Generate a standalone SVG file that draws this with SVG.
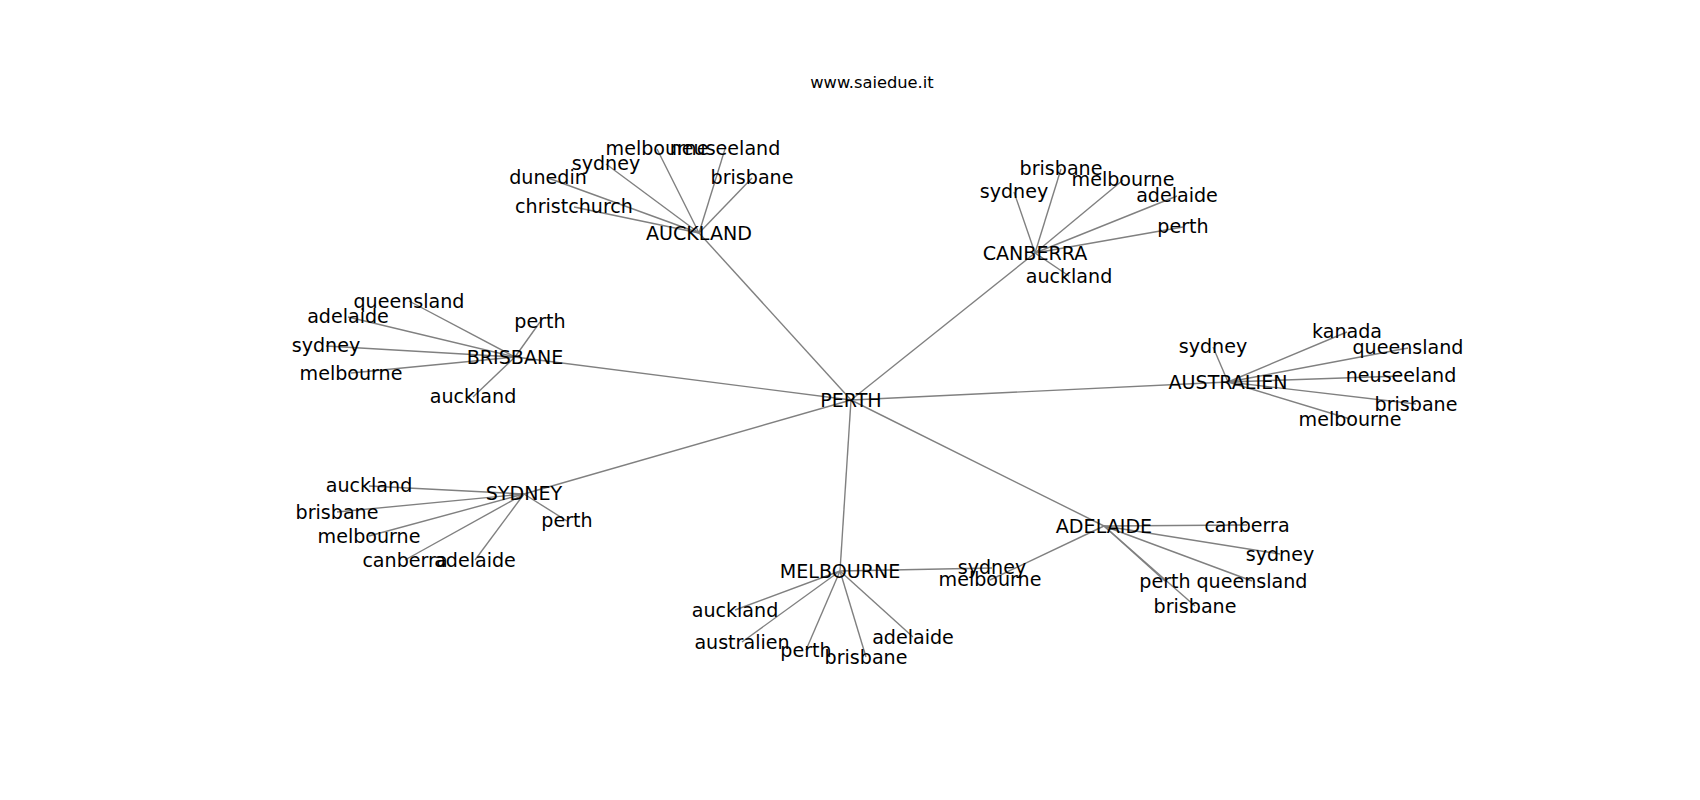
<svg xmlns="http://www.w3.org/2000/svg" width="1700" height="800" viewBox="0 0 1700 800">
<style>
text{font-family:"DejaVu Sans","Liberation Sans",sans-serif;font-size:19.1px;fill:#000;text-anchor:middle}
.title{font-size:16.3px}
#edges line{stroke:#808080;stroke-width:1.4}
</style>
<rect width="1700" height="800" fill="#fff"/>
<text class="title" x="872" y="88">www.saiedue.it</text>
<g id="edges">
<line x1="851" y1="400" x2="699" y2="233"/>
<line x1="851" y1="400" x2="1035" y2="253"/>
<line x1="851" y1="400" x2="515" y2="357"/>
<line x1="851" y1="400" x2="1228" y2="382"/>
<line x1="851" y1="400" x2="524" y2="494"/>
<line x1="851" y1="400" x2="840" y2="571"/>
<line x1="851" y1="400" x2="1104" y2="526"/>
<line x1="699" y1="233" x2="657" y2="149"/>
<line x1="699" y1="233" x2="725" y2="149"/>
<line x1="699" y1="233" x2="606" y2="164"/>
<line x1="699" y1="233" x2="548" y2="178"/>
<line x1="699" y1="233" x2="752" y2="178"/>
<line x1="699" y1="233" x2="574" y2="207"/>
<line x1="1035" y1="253" x2="1061" y2="169"/>
<line x1="1035" y1="253" x2="1123" y2="180"/>
<line x1="1035" y1="253" x2="1014" y2="192"/>
<line x1="1035" y1="253" x2="1177" y2="196"/>
<line x1="1035" y1="253" x2="1183" y2="227"/>
<line x1="1035" y1="253" x2="1069" y2="276"/>
<line x1="515" y1="357" x2="409" y2="301"/>
<line x1="515" y1="357" x2="348" y2="317"/>
<line x1="515" y1="357" x2="540" y2="322"/>
<line x1="515" y1="357" x2="326" y2="346"/>
<line x1="515" y1="357" x2="351" y2="373"/>
<line x1="515" y1="357" x2="473" y2="397"/>
<line x1="1228" y1="382" x2="1213" y2="347"/>
<line x1="1228" y1="382" x2="1347" y2="332"/>
<line x1="1228" y1="382" x2="1408" y2="348"/>
<line x1="1228" y1="382" x2="1401" y2="376"/>
<line x1="1228" y1="382" x2="1416" y2="404"/>
<line x1="1228" y1="382" x2="1350" y2="419"/>
<line x1="524" y1="494" x2="369" y2="486"/>
<line x1="524" y1="494" x2="337" y2="512"/>
<line x1="524" y1="494" x2="567" y2="521"/>
<line x1="524" y1="494" x2="369" y2="536"/>
<line x1="524" y1="494" x2="405" y2="560"/>
<line x1="524" y1="494" x2="475" y2="560"/>
<line x1="840" y1="571" x2="735" y2="610"/>
<line x1="840" y1="571" x2="742" y2="642"/>
<line x1="840" y1="571" x2="806" y2="650"/>
<line x1="840" y1="571" x2="866" y2="657"/>
<line x1="840" y1="571" x2="913" y2="637"/>
<line x1="840" y1="571" x2="992" y2="568"/>
<line x1="1104" y1="526" x2="1247" y2="525"/>
<line x1="1104" y1="526" x2="1280" y2="554"/>
<line x1="1104" y1="526" x2="1252" y2="581"/>
<line x1="1104" y1="526" x2="1165" y2="581"/>
<line x1="1104" y1="526" x2="1195" y2="606"/>
<line x1="1104" y1="526" x2="990" y2="580"/>
</g>
<g id="n-perth"><text x="851" y="407">PERTH</text></g>
<g id="n-auckland"><text x="699" y="240">AUCKLAND</text></g>
<g id="n-auckland-melbourne"><text x="657" y="155">melbourne</text></g>
<g id="n-auckland-neuseeland"><text x="725" y="155">neuseeland</text></g>
<g id="n-auckland-sydney"><text x="606" y="170">sydney</text></g>
<g id="n-auckland-dunedin"><text x="548" y="184">dunedin</text></g>
<g id="n-auckland-brisbane"><text x="752" y="184">brisbane</text></g>
<g id="n-auckland-christchurch"><text x="574" y="213">christchurch</text></g>
<g id="n-canberra"><text x="1035" y="260">CANBERRA</text></g>
<g id="n-canberra-brisbane"><text x="1061" y="175">brisbane</text></g>
<g id="n-canberra-melbourne"><text x="1123" y="186">melbourne</text></g>
<g id="n-canberra-sydney"><text x="1014" y="198">sydney</text></g>
<g id="n-canberra-adelaide"><text x="1177" y="202">adelaide</text></g>
<g id="n-canberra-perth"><text x="1183" y="233">perth</text></g>
<g id="n-canberra-auckland"><text x="1069" y="283">auckland</text></g>
<g id="n-brisbane"><text x="515" y="364">BRISBANE</text></g>
<g id="n-brisbane-queensland"><text x="409" y="308">queensland</text></g>
<g id="n-brisbane-adelaide"><text x="348" y="323">adelaide</text></g>
<g id="n-brisbane-perth"><text x="540" y="328">perth</text></g>
<g id="n-brisbane-sydney"><text x="326" y="352">sydney</text></g>
<g id="n-brisbane-melbourne"><text x="351" y="380">melbourne</text></g>
<g id="n-brisbane-auckland"><text x="473" y="403">auckland</text></g>
<g id="n-australien"><text x="1228" y="389">AUSTRALIEN</text></g>
<g id="n-australien-sydney"><text x="1213" y="353">sydney</text></g>
<g id="n-australien-kanada"><text x="1347" y="338">kanada</text></g>
<g id="n-australien-queensland"><text x="1408" y="354">queensland</text></g>
<g id="n-australien-neuseeland"><text x="1401" y="382">neuseeland</text></g>
<g id="n-australien-brisbane"><text x="1416" y="411">brisbane</text></g>
<g id="n-australien-melbourne"><text x="1350" y="426">melbourne</text></g>
<g id="n-sydney"><text x="524" y="500">SYDNEY</text></g>
<g id="n-sydney-auckland"><text x="369" y="492">auckland</text></g>
<g id="n-sydney-brisbane"><text x="337" y="519">brisbane</text></g>
<g id="n-sydney-perth"><text x="567" y="527">perth</text></g>
<g id="n-sydney-melbourne"><text x="369" y="543">melbourne</text></g>
<g id="n-sydney-canberra"><text x="405" y="567">canberra</text></g>
<g id="n-sydney-adelaide"><text x="475" y="567">adelaide</text></g>
<g id="n-melbourne"><text x="840" y="578">MELBOURNE</text></g>
<g id="n-melbourne-auckland"><text x="735" y="617">auckland</text></g>
<g id="n-melbourne-australien"><text x="742" y="649">australien</text></g>
<g id="n-melbourne-perth"><text x="806" y="657">perth</text></g>
<g id="n-melbourne-brisbane"><text x="866" y="664">brisbane</text></g>
<g id="n-melbourne-adelaide"><text x="913" y="644">adelaide</text></g>
<g id="n-melbourne-sydney"><text x="992" y="574">sydney</text></g>
<g id="n-adelaide"><text x="1104" y="533">ADELAIDE</text></g>
<g id="n-adelaide-canberra"><text x="1247" y="532">canberra</text></g>
<g id="n-adelaide-sydney"><text x="1280" y="561">sydney</text></g>
<g id="n-adelaide-queensland"><text x="1252" y="588">queensland</text></g>
<g id="n-adelaide-perth"><text x="1165" y="588">perth</text></g>
<g id="n-adelaide-brisbane"><text x="1195" y="613">brisbane</text></g>
<g id="n-adelaide-melbourne"><text x="990" y="586">melbourne</text></g>
</svg>
